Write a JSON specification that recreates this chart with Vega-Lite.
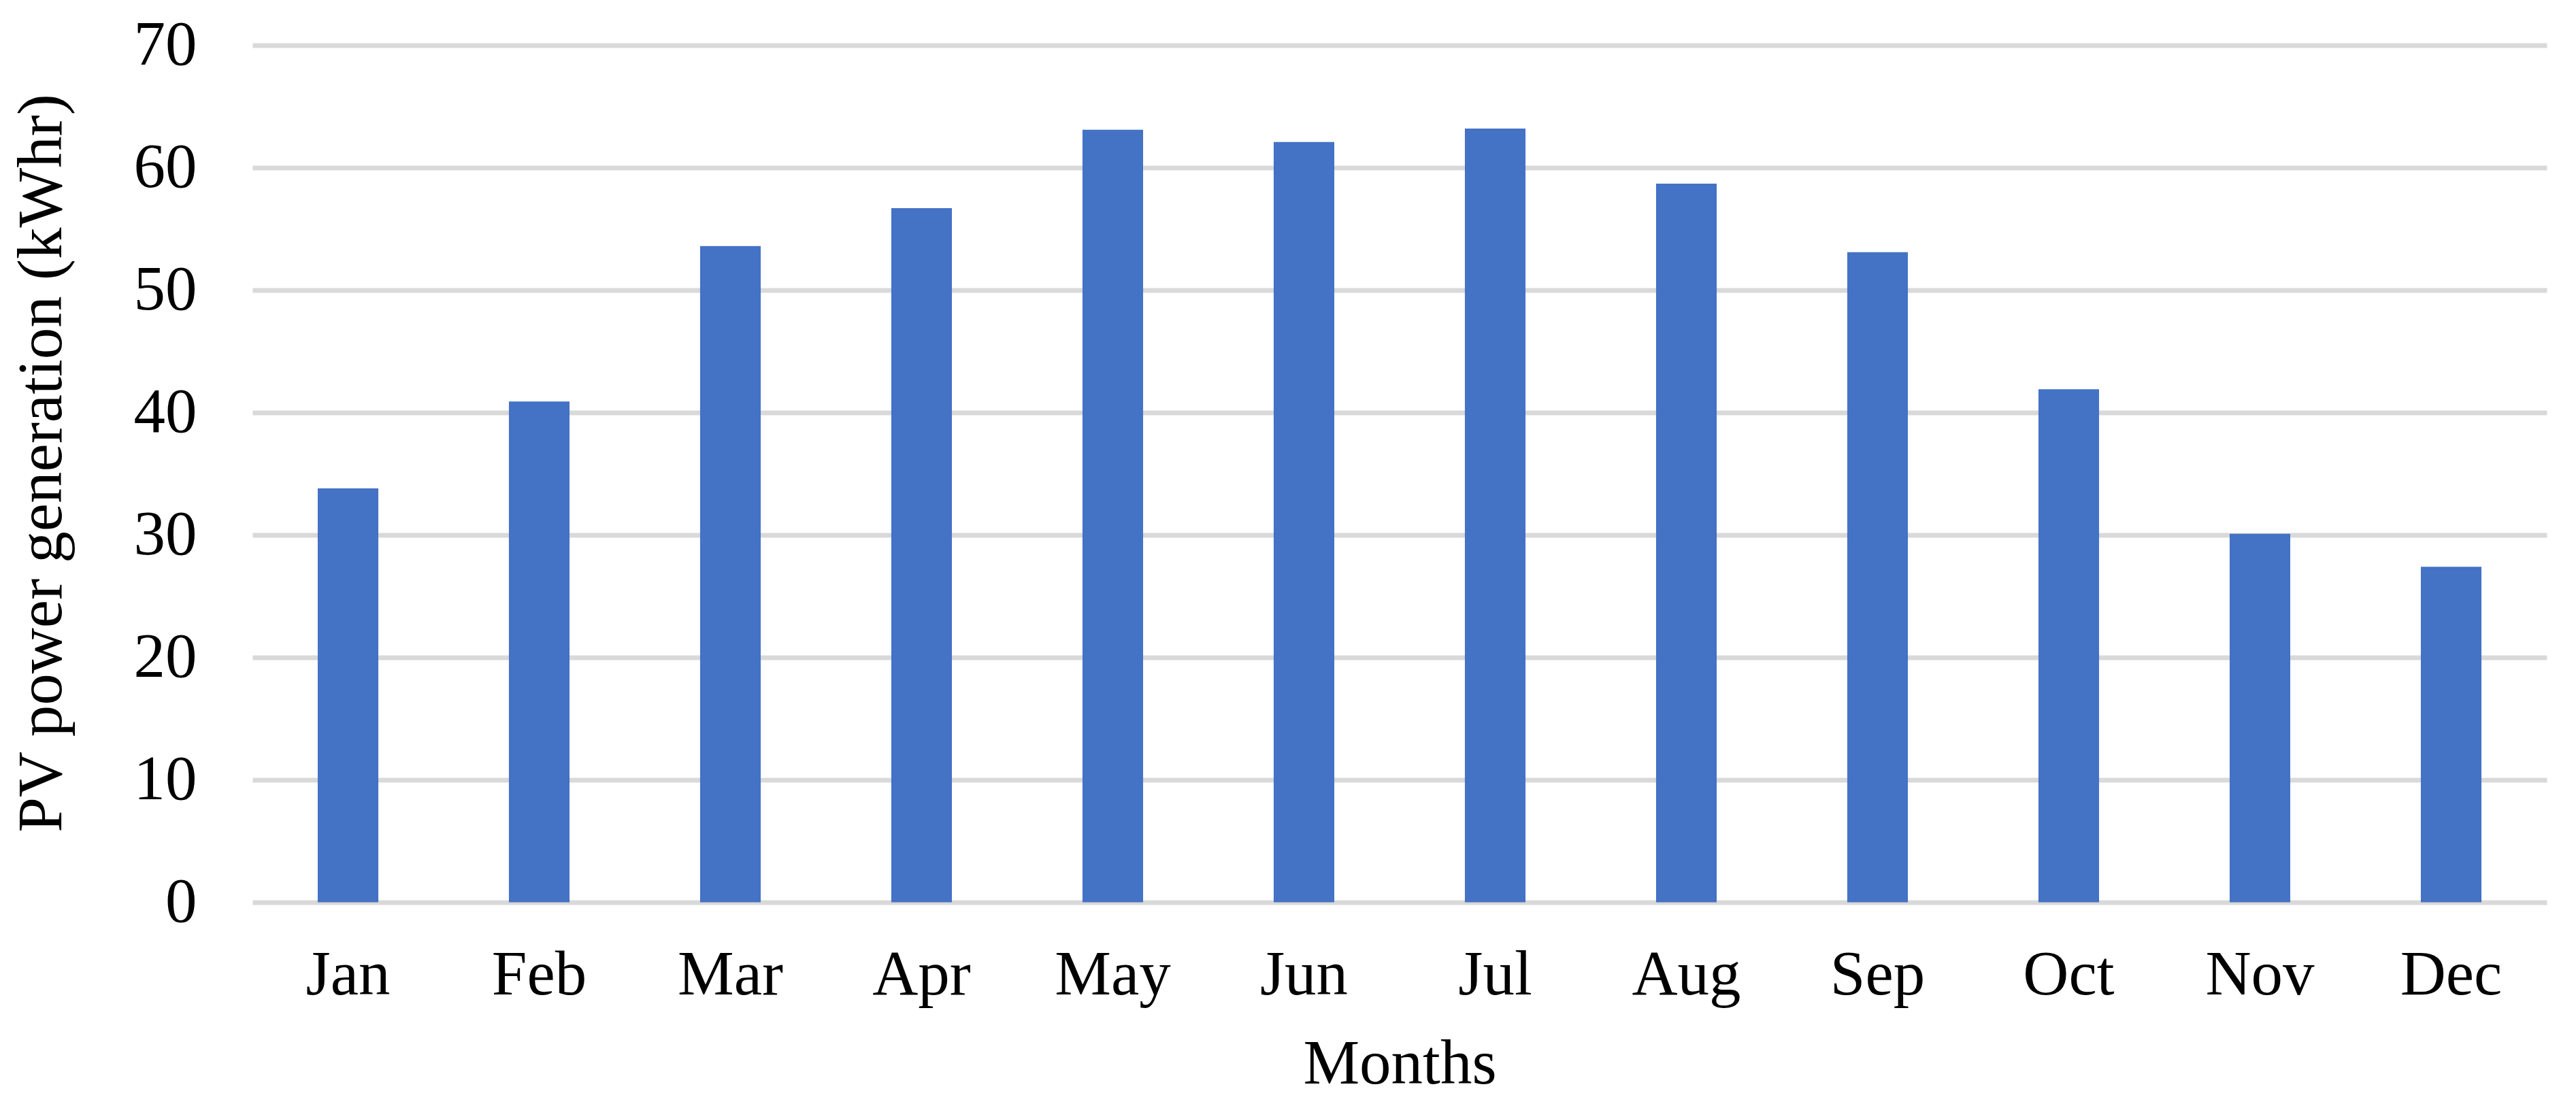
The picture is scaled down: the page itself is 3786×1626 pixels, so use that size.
{
  "$schema": "https://vega.github.io/schema/vega-lite/v6.json",
  "width": 3372,
  "height": 1260,
  "autosize": "none",
  "padding": {"left": 371, "top": 66.5, "right": 43, "bottom": 299.5},
  "background": "white",
  "config": {"view": {"stroke": null}, "font": "Liberation Serif"},
  "data": {
    "values": [
      {"month": "Jan", "value": 33.8},
      {"month": "Feb", "value": 40.9},
      {"month": "Mar", "value": 53.6},
      {"month": "Apr", "value": 56.7},
      {"month": "May", "value": 63.1},
      {"month": "Jun", "value": 62.1},
      {"month": "Jul", "value": 63.2},
      {"month": "Aug", "value": 58.7},
      {"month": "Sep", "value": 53.1},
      {"month": "Oct", "value": 41.9},
      {"month": "Nov", "value": 30.1},
      {"month": "Dec", "value": 27.4}
    ]
  },
  "mark": {"type": "bar", "color": "#4472C4"},
  "encoding": {
    "x": {
      "field": "month",
      "type": "nominal",
      "sort": null,
      "scale": {"paddingInner": 0.683, "paddingOuter": 0.3415},
      "axis": {
        "title": "Months",
        "labelAngle": 0,
        "labelFont": "Liberation Serif",
        "labelFontSize": 93,
        "labelColor": "black",
        "labelPadding": 62,
        "ticks": false,
        "tickSize": 0,
        "domain": false,
        "grid": false,
        "titleFont": "Liberation Serif",
        "titleFontSize": 93,
        "titleFontWeight": "normal",
        "titleColor": "black",
        "titleX": 1686,
        "titleY": 193,
        "titleAlign": "center",
        "titleBaseline": "top"
      }
    },
    "y": {
      "field": "value",
      "type": "quantitative",
      "scale": {"domain": [0, 70]},
      "axis": {
        "title": "PV power generation (kWhr)",
        "values": [0, 10, 20, 30, 40, 50, 60, 70],
        "grid": true,
        "gridColor": "#D9D9D9",
        "gridWidth": 7,
        "domain": false,
        "ticks": false,
        "tickSize": 0,
        "labelFont": "Liberation Serif",
        "labelFontSize": 93,
        "labelColor": "black",
        "labelPadding": 82,
        "titleFont": "Liberation Serif",
        "titleFontSize": 93,
        "titleFontWeight": "normal",
        "titleColor": "black",
        "titleAngle": -90,
        "titleX": -282,
        "titleY": 614,
        "titleAlign": "center",
        "titleBaseline": "alphabetic"
      }
    }
  }
}
